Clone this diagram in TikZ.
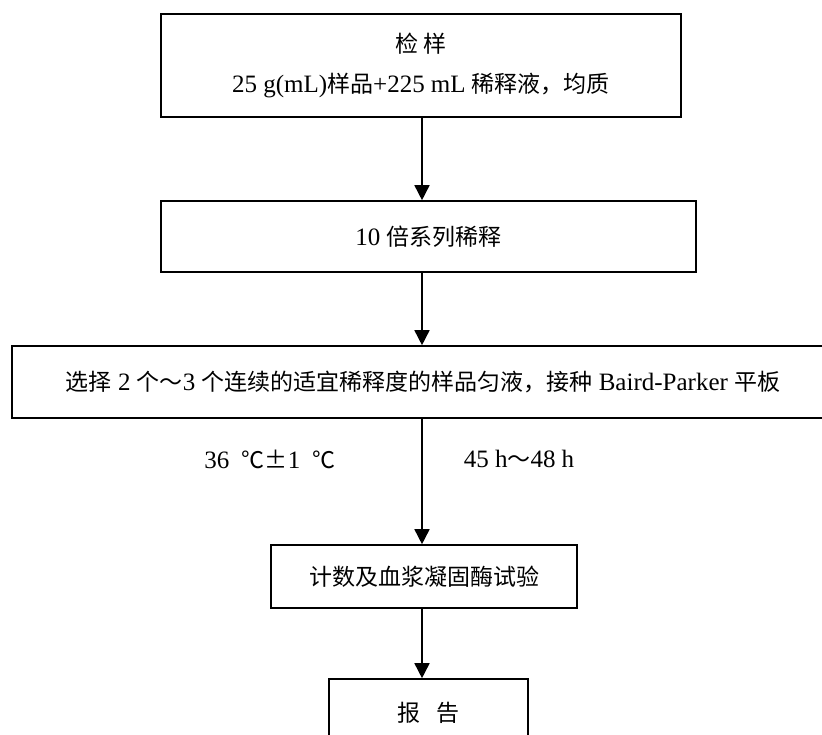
\documentclass[tikz,border=0pt]{standalone}
\usepackage{fontspec}
\setmainfont{Liberation Serif}
\newfontfamily\cjk[Scale=0.92]{Noto Sans CJK SC}
\usetikzlibrary{arrows.meta}
\newcommand\zh[1]{{\cjk #1}}

\begin{document}
\begin{tikzpicture}[x=1pt,y=-1pt,
		box/.style={draw,line width=1.6pt,inner sep=0pt,align=center,font=\fontsize{25}{40}\selectfont},
		arr/.style={-{Triangle[length=15pt,width=15pt]},line width=1.6pt},
		lbl/.style={font=\fontsize{25}{30}\selectfont}]
		\useasboundingbox (0,0) rectangle (822,735);
		\clip (0,0) rectangle (822,735);
		
		% Boxes
		\node[box,minimum width=520,minimum height=103] (sample) at (421,65.5) {\zh{检 样}\\25 g(mL)\zh{样品}+225 mL \zh{稀释液，均质}};
		\node[box,minimum width=535,minimum height=71] (dilute) at (428.5,236.5) {10 \zh{倍系列稀释}};
		\node[box,minimum width=822,minimum height=72] (plate) at (423,382) {\zh{选择} 2 \zh{个～}3 \zh{个连续的适宜稀释度的样品匀液，接种} Baird-Parker \zh{平板}};
		\node[box,minimum width=306,minimum height=63] (count) at (424,576.5) {\zh{计数及血浆凝固酶试验}};
		\node[box,minimum width=199,minimum height=68] (report) at (428.5,713) {\zh{报\ \ \ 告}};
		
		% Incubation labels
		\node[lbl] (temp) at (270,459) {36\ \ \zh{℃±}1\ \ \zh{℃}};
		\node[lbl] (time) at (519,459) {45 h\zh{～}48 h};
		
		% Arrows
		\draw[arr] (sample.south -| 422,0) -- (dilute.north -| 422,0);
		\draw[arr] (dilute.south -| 422,0) -- (plate.north -| 422,0);
		\draw[arr] (plate.south -| 422,0) -- (count.north -| 422,0);
		\draw[arr] (count.south -| 422,0) -- (report.north -| 422,0);
	\end{tikzpicture}
\end{document}
